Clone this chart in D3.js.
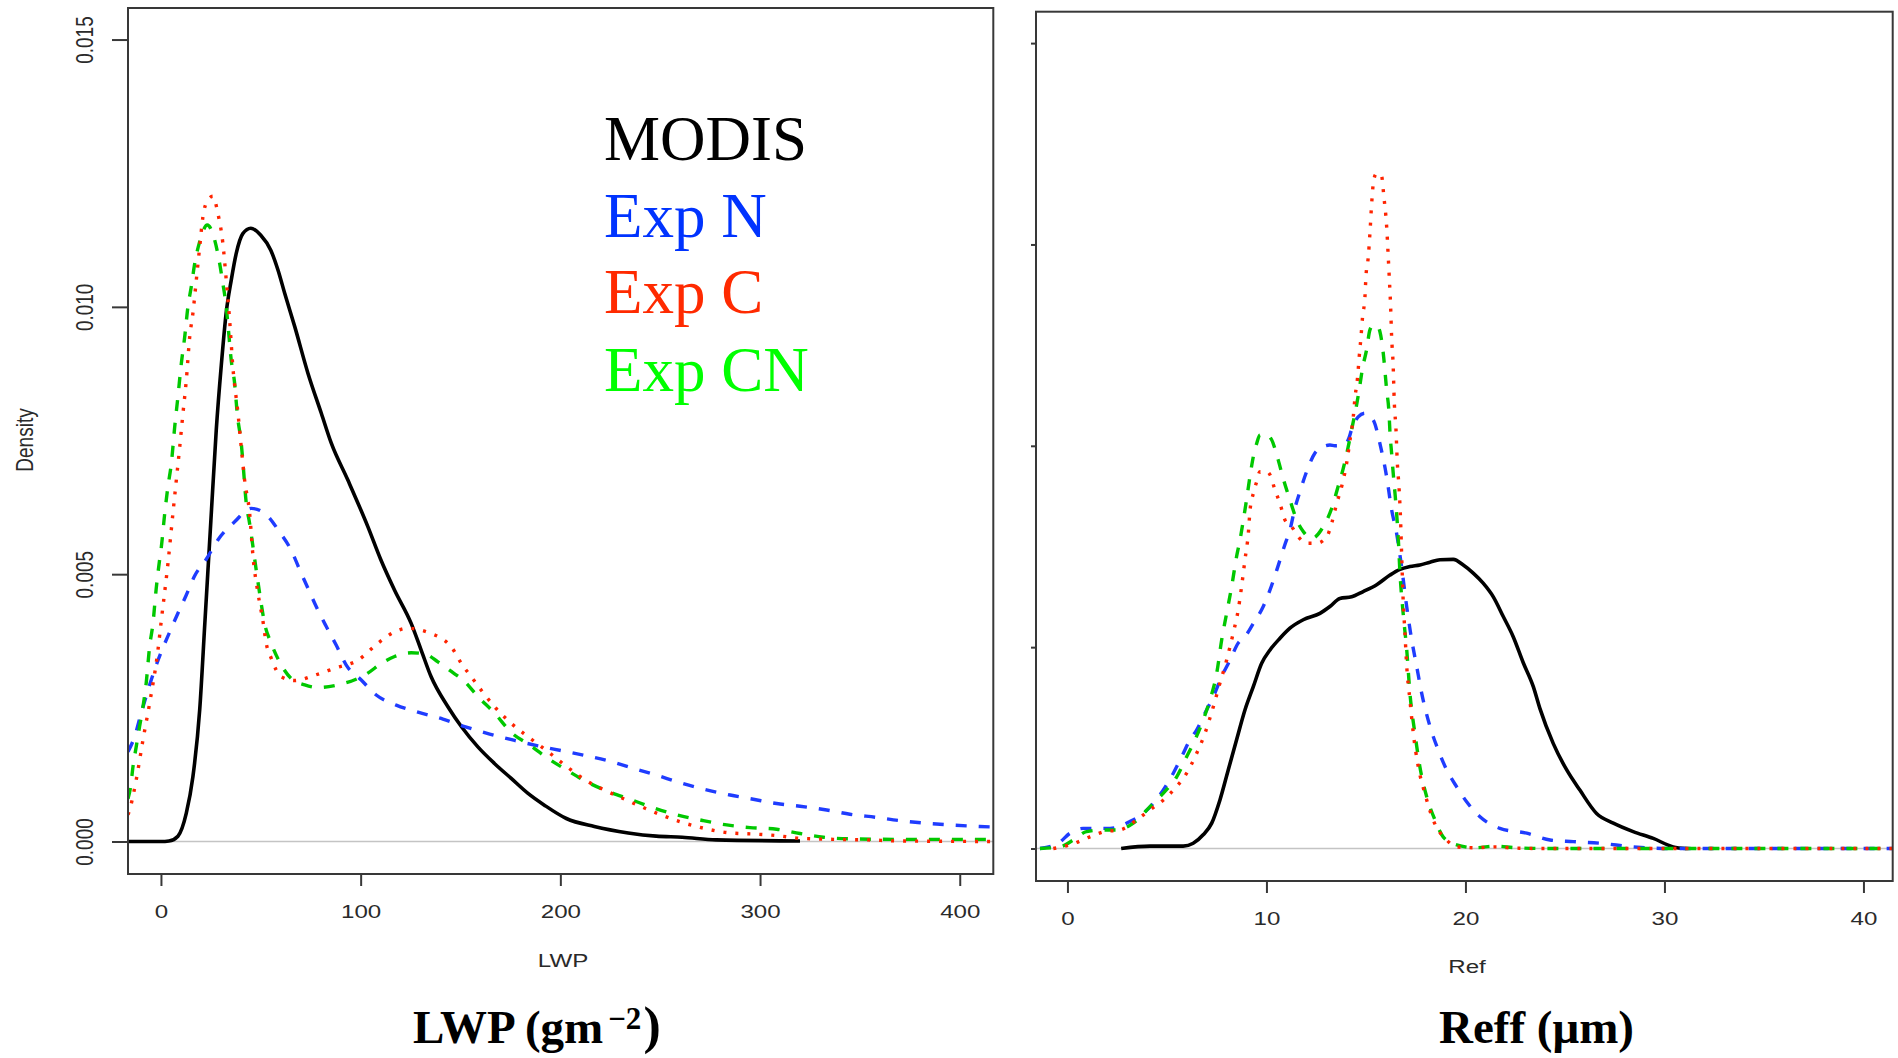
<!DOCTYPE html>
<html><head><meta charset="utf-8">
<script src="https://cdn.jsdelivr.net/npm/d3@7"></script>
<style>body{margin:0;background:#fff;overflow:hidden}</style>
</head><body>
<svg id="c" width="1898" height="1058"></svg>
<script>
// ---------- data ----------
const seriesNames = ["MODIS", "Exp N", "Exp C", "Exp CN"];
const lwpTicksX = [0, 100, 200, 300, 400];
const lwpTicksY = [0, 0.005, 0.010, 0.015];
const lwpTickLabelsY = ["0.000", "0.005", "0.010", "0.015"];
const refTicksX = [0, 10, 20, 30, 40];
const refTicksY = [0, 0.05, 0.10, 0.15, 0.20];

// LWP densities [LWP, density]
const lwpModis = [[-16.5,0],[0,0],[4,0.00001],[8.5,0.0001],[12.7,0.00053],[16,0.00121],[19.4,0.00246],[22,0.0041],[25,0.006],[27.7,0.0077],[30.2,0.0089],[32.7,0.0099],[35.2,0.0105],[37.7,0.011],[41,0.01137],[45,0.01147],[50,0.01134],[55,0.01106],[58.6,0.01069],[62,0.01025],[67,0.00963],[73.6,0.00876],[80.3,0.00801],[85.3,0.00745],[93.6,0.00676],[103.6,0.00589],[110,0.00528],[117,0.0047],[125.3,0.00408],[130.3,0.00358],[135.3,0.00308],[143.7,0.00252],[150.4,0.00215],[158.7,0.00177],[167,0.00146],[175.4,0.00118],[183.8,0.0009],[192,0.00068],[203,0.00043],[217,0.00028],[234,0.00016],[248,0.0001],[261,0.00008],[278,0.00003],[320,0.00001]];
const lwpExpN = [[-16.5,0.00168],[-13.2,0.00196],[-9.9,0.0024],[-6.5,0.00283],[-3.2,0.00321],[0.2,0.00355],[4.4,0.00392],[8.5,0.00427],[12.7,0.00461],[16.9,0.00497],[22.7,0.00528],[28.5,0.00564],[36.9,0.00598],[45.2,0.00623],[51.9,0.00614],[59.4,0.00579],[65.2,0.00545],[70.2,0.00502],[73.6,0.00474],[77.8,0.00439],[82.8,0.00402],[87.8,0.00367],[92.8,0.0033],[100.3,0.00302],[107.8,0.00274],[117.8,0.00255],[128.7,0.00242],[141.2,0.00229],[152.1,0.00215],[164.6,0.00201],[177.1,0.00189],[188.8,0.00179],[200.5,0.0017],[213.5,0.0016],[224.8,0.0015],[236.5,0.00137],[248.2,0.00124],[259.9,0.0011],[271.6,0.00098],[285,0.00087],[296.6,0.00079],[308.3,0.00071],[320,0.00066],[333.4,0.00059],[345,0.00051],[358.4,0.00045],[370,0.00039],[383.4,0.00034],[395,0.00031],[410,0.00028],[416.8,0.00027]];
const lwpExpC = [[-16.5,0.0005],[-15.7,0.00059],[-12.4,0.00115],[-9,0.0019],[-5.7,0.00258],[-1.5,0.00358],[0.2,0.00414],[3.5,0.0052],[6,0.00614],[7.7,0.00676],[9.4,0.00738],[11,0.008],[12.7,0.00863],[14.4,0.00944],[16,0.00988],[17.7,0.0105],[19.4,0.01112],[21,0.01168],[23.5,0.012],[26,0.01207],[28.5,0.01175],[31,0.01119],[32.7,0.0105],[34.4,0.00975],[36,0.00888],[38.6,0.008],[40.2,0.00738],[41.9,0.00676],[44.4,0.00614],[46.1,0.00533],[48.6,0.00464],[51,0.00414],[52.7,0.00371],[55.2,0.00343],[60.2,0.00308],[66.9,0.00301],[77,0.00311],[87,0.00324],[98.6,0.00339],[108.7,0.00371],[117,0.00392],[123.7,0.00399],[129.5,0.00396],[135.3,0.00389],[140.4,0.0038],[145.4,0.00364],[150.4,0.00333],[155.4,0.00308],[160.4,0.00283],[167.1,0.00252],[175.4,0.00221],[183.8,0.00196],[193.8,0.00168],[202.2,0.00143],[213.8,0.00112],[222.2,0.00096],[232.2,0.00079],[240,0.00066],[248.2,0.00053],[259.9,0.00037],[271.6,0.00025],[285,0.00016],[296.6,0.00014],[308.3,0.00011],[320,0.00006],[336.6,0.00004],[353.4,0.00003],[370,0.00001],[416.8,0]];
const lwpExpCN = [[-16.5,0.0008],[-15.2,0.00102],[-14,0.0014],[-12.4,0.00177],[-10.7,0.00215],[-9,0.00252],[-7.4,0.00296],[-5.7,0.00364],[-4,0.00408],[-2.4,0.00472],[-0.7,0.00526],[0.2,0.00551],[1.9,0.00614],[3.5,0.00664],[5.2,0.00707],[6.9,0.00776],[8.5,0.00832],[10.2,0.00894],[11.9,0.00944],[13.5,0.01],[15.2,0.01038],[16.9,0.01081],[19.4,0.01122],[23.2,0.01153],[26.9,0.01125],[29.4,0.01081],[31,0.01044],[32.7,0.01],[33.5,0.00969],[35.2,0.009],[36.9,0.00857],[38.2,0.008],[40.2,0.00745],[41.1,0.00707],[42.7,0.00633],[44.4,0.00595],[46.1,0.00551],[47.7,0.00508],[48.6,0.00485],[50.2,0.00445],[51.9,0.00408],[55.2,0.00371],[59.4,0.00336],[65.2,0.00305],[72,0.00293],[78.6,0.00288],[88.6,0.00293],[98.6,0.00305],[103.6,0.00315],[110.3,0.00333],[117,0.00346],[125.3,0.00353],[132,0.00351],[138.7,0.00336],[145.4,0.00318],[152.1,0.00299],[158.7,0.00271],[167.1,0.0024],[175.4,0.00204],[184.8,0.0018],[193.5,0.00156],[203,0.00134],[213.5,0.00111],[225,0.00092],[234.9,0.00079],[246.5,0.00063],[258.2,0.0005],[271.6,0.00039],[283.3,0.00031],[295,0.00026],[308.3,0.00023],[320,0.00015],[331.7,0.00008],[345,0.00005],[370,0.00004],[416.8,0.00004]];

// Reff densities [Reff, density]
const refModis = [[2.7,0],[4.15,0.0006],[5.82,0.0006],[6.32,0.0013],[6.82,0.0034],[7.25,0.0063],[7.66,0.012],[8.08,0.0195],[8.5,0.027],[8.92,0.0344],[9.34,0.0402],[9.76,0.046],[10.18,0.0493],[10.68,0.0522],[11.18,0.0547],[11.85,0.0568],[12.69,0.0584],[13.19,0.0601],[13.69,0.0621],[14.28,0.0625],[14.86,0.0638],[15.54,0.0655],[16.21,0.0679],[16.71,0.0693],[17.21,0.07],[17.71,0.0704],[18.22,0.0711],[18.72,0.0717],[19.39,0.0718],[19.89,0.0704],[20.39,0.0684],[20.89,0.0659],[21.4,0.0625],[21.9,0.0576],[22.4,0.0526],[22.9,0.0462],[23.41,0.0402],[23.74,0.0348],[24.41,0.0261],[25.09,0.0195],[25.75,0.0145],[26.59,0.0087],[27.43,0.0063],[28.43,0.0042],[29.44,0.0025],[30.44,0.0004],[31.1,0]];
const refExpN = [[-1.38,0],[-0.46,0.0013],[0.13,0.0038],[0.79,0.005],[2.14,0.005],[3.14,0.0067],[3.81,0.0087],[4.31,0.0112],[4.81,0.0145],[5.32,0.0187],[5.74,0.0228],[6.16,0.027],[6.49,0.0294],[6.91,0.0336],[7.33,0.0377],[7.75,0.0427],[8.17,0.0468],[8.58,0.051],[8.92,0.0526],[9.34,0.0559],[9.84,0.0601],[10.18,0.0642],[10.51,0.069],[10.93,0.0755],[11.18,0.0791],[11.43,0.0845],[11.68,0.0886],[12.02,0.0936],[12.44,0.0982],[12.77,0.0996],[13.19,0.1002],[13.44,0.1],[13.86,0.1002],[14.11,0.1015],[14.28,0.104],[14.61,0.1072],[14.95,0.1081],[15.37,0.1064],[15.7,0.1006],[16.04,0.0923],[16.29,0.0841],[16.54,0.0783],[16.79,0.07],[17.05,0.06],[17.3,0.0518],[17.55,0.0452],[17.8,0.0386],[18.22,0.0303],[18.63,0.0245],[19.06,0.0195],[19.56,0.0153],[20.06,0.0116],[20.73,0.0079],[21.73,0.005],[23.08,0.0038],[24.25,0.0021],[25.42,0.0017],[26.76,0.0013],[28.43,0.0004],[30.11,0],[41.47,0]];
const refExpC = [[-0.71,0],[0.13,0.0009],[1.13,0.0029],[1.88,0.0042],[2.64,0.0046],[3.48,0.0071],[4.15,0.0096],[4.81,0.012],[5.49,0.0154],[5.99,0.0187],[6.49,0.0236],[6.91,0.0286],[7.33,0.0352],[7.66,0.041],[8.0,0.0468],[8.33,0.0535],[8.58,0.0592],[8.75,0.065],[8.92,0.0717],[9.09,0.0783],[9.17,0.0837],[9.34,0.0882],[9.51,0.0911],[9.67,0.0936],[10.01,0.0936],[10.18,0.0928],[10.43,0.089],[10.68,0.0857],[10.93,0.0816],[11.27,0.0799],[11.6,0.0774],[12.02,0.0758],[12.52,0.0758],[13.03,0.0774],[13.28,0.0808],[13.53,0.0857],[13.78,0.0899],[14.03,0.0957],[14.2,0.1015],[14.36,0.107],[14.45,0.112],[14.58,0.117],[14.66,0.122],[14.75,0.127],[14.83,0.132],[14.95,0.137],[15.0,0.142],[15.12,0.147],[15.2,0.1528],[15.29,0.1603],[15.37,0.1652],[15.5,0.1675],[15.62,0.1677],[15.79,0.1669],[15.9,0.1619],[16.04,0.1545],[16.12,0.147],[16.17,0.142],[16.24,0.1346],[16.29,0.1271],[16.37,0.1197],[16.42,0.1114],[16.51,0.104],[16.57,0.0965],[16.67,0.089],[16.74,0.0816],[16.8,0.072],[16.87,0.0617],[16.96,0.0535],[17.05,0.0452],[17.21,0.0369],[17.38,0.0286],[17.63,0.0203],[17.96,0.0137],[18.38,0.0071],[19.06,0.0021],[19.56,0.0004],[20.5,0.0002],[21.5,0.0004],[22.5,0.0001],[24,0],[41.47,0]];
const refExpCN = [[-1.38,0],[-0.38,0.0004],[0.29,0.0021],[0.96,0.0042],[1.8,0.0046],[2.47,0.0046],[3.31,0.0063],[4.15,0.0104],[4.81,0.0137],[5.49,0.0178],[5.99,0.0228],[6.41,0.027],[6.82,0.0319],[7.16,0.0369],[7.5,0.0435],[7.75,0.0518],[8.0,0.0584],[8.25,0.065],[8.5,0.0725],[8.67,0.0766],[8.84,0.0816],[9.0,0.0866],[9.17,0.0923],[9.34,0.0973],[9.51,0.1006],[9.67,0.1027],[9.92,0.103],[10.26,0.1015],[10.59,0.0965],[10.84,0.0919],[11.18,0.0866],[11.52,0.0816],[11.85,0.0787],[12.27,0.077],[12.85,0.0799],[13.28,0.0845],[13.58,0.0895],[13.86,0.0944],[14.11,0.0998],[14.28,0.104],[14.5,0.1093],[14.66,0.1139],[14.83,0.1193],[15.03,0.1238],[15.2,0.1288],[15.37,0.13],[15.55,0.1298],[15.7,0.1284],[15.87,0.123],[16.04,0.1139],[16.16,0.1081],[16.21,0.1031],[16.29,0.0982],[16.37,0.0932],[16.46,0.0882],[16.54,0.0833],[16.62,0.0774],[16.71,0.0684],[16.87,0.0584],[17.05,0.0493],[17.21,0.0386],[17.46,0.0286],[17.71,0.0203],[18.05,0.0129],[18.47,0.0071],[18.88,0.0029],[19.56,0.0009],[20.5,0.0002],[21.5,0.0006],[22.5,0.0002],[24,0],[41.47,0]];

// ---------- drawing ----------
const svg = d3.select("#c");
const SANS = "'Liberation Sans', Arial, sans-serif";
const SERIF = "'Liberation Serif', 'Times New Roman', serif";
const STRETCH = 1.27;
const styles = {
  "MODIS":  {stroke:"#000000", width:3.6, dash:null},
  "Exp N":  {stroke:"#1f3cff", width:3.4, dash:"11,12"},
  "Exp C":  {stroke:"#ff2400", width:3.4, dash:"3,9"},
  "Exp CN": {stroke:"#00c800", width:3.4, dash:"11,12"}
};
const legendColors = {"MODIS":"#000000","Exp N":"#0033ff","Exp C":"#ff2a00","Exp CN":"#00ff00"};
const drawOrder = ["MODIS","Exp N","Exp CN","Exp C"];

function panel(cfg) {
  const {x, y, box, series, ticksX, ticksY, tickLabelsY, yTickLen, xLabel, xLabelPos, clipId} = cfg;
  const g = svg.append("g");
  g.append("clipPath").attr("id", clipId).append("rect")
    .attr("x", box[0]).attr("y", box[1]).attr("width", box[2]-box[0]).attr("height", box[3]-box[1]);
  g.append("line").attr("x1", box[0]).attr("x2", box[2]).attr("y1", y(0)).attr("y2", y(0))
    .attr("stroke", "#c4c4c4").attr("stroke-width", 1.6);
  const line = d3.line().x(d => x(d[0])).y(d => y(d[1])).curve(d3.curveMonotoneX);
  const cg = g.append("g").attr("clip-path", `url(#${clipId})`);
  drawOrder.forEach(name => {
    const s = styles[name];
    cg.append("path").datum(series[name]).attr("d", line)
      .attr("fill", "none").attr("stroke", s.stroke).attr("stroke-width", s.width)
      .attr("stroke-dasharray", s.dash).attr("stroke-linejoin", "round");
  });
  g.append("rect").attr("x", box[0]).attr("y", box[1]).attr("width", box[2]-box[0]).attr("height", box[3]-box[1])
    .attr("fill", "none").attr("stroke", "#383838").attr("stroke-width", 2);
  const ax = g.append("g").attr("transform", `translate(0,${box[3]})`)
    .call(d3.axisBottom(x).tickValues(ticksX).tickSize(12).tickSizeOuter(0).tickFormat(d3.format("d")));
  ax.select(".domain").remove();
  ax.selectAll("line").attr("stroke", "#383838").attr("stroke-width", 2);
  ax.selectAll("text").attr("y", 44).attr("dy", null)
    .attr("transform", `scale(${STRETCH},1)`)
    .style("font-family", SANS).style("font-size", "19px").attr("fill", "#2a2a2a");
  const ay = g.append("g").attr("transform", `translate(${box[0]},0)`)
    .call(d3.axisLeft(y).tickValues(ticksY).tickSize(yTickLen).tickSizeOuter(0)
      .tickFormat((d, i) => tickLabelsY ? tickLabelsY[i] : ""));
  ay.select(".domain").remove();
  ay.selectAll("line").attr("stroke", "#383838").attr("stroke-width", 2);
  ay.selectAll("text").attr("x", null).attr("dy", null).attr("text-anchor", "middle")
    .attr("transform", `translate(-35,0) scale(${STRETCH},1) rotate(-90)`)
    .style("font-family", SANS).style("font-size", "19px").attr("fill", "#2a2a2a");
  g.append("text").attr("transform", `translate(${xLabelPos[0]},${xLabelPos[1]}) scale(${STRETCH},1)`)
    .attr("text-anchor", "middle").style("font-family", SANS).style("font-size", "19px")
    .attr("fill", "#2a2a2a").text(xLabel);
}

const xL = d3.scaleLinear().domain([-16.5, 416.8]).range([128, 993.3]);
const yL = d3.scaleLinear().domain([-0.000608, 0.01559]).range([874, 8]);
panel({x: xL, y: yL, box: [128, 8, 993.3, 874], clipId: "cl",
  series: {"MODIS": lwpModis, "Exp N": lwpExpN, "Exp C": lwpExpC, "Exp CN": lwpExpCN},
  ticksX: lwpTicksX, ticksY: lwpTicksY, tickLabelsY: lwpTickLabelsY, yTickLen: 16,
  xLabel: "LWP", xLabelPos: [563, 967]});

const xR = d3.scaleLinear().domain([-1.58, 41.47]).range([1036, 1892.7]);
const yR = d3.scaleLinear().domain([-0.00807, 0.2078]).range([881, 11.7]);
panel({x: xR, y: yR, box: [1036, 11.7, 1892.7, 881], clipId: "cr",
  series: {"MODIS": refModis, "Exp N": refExpN, "Exp C": refExpC, "Exp CN": refExpCN},
  ticksX: refTicksX, ticksY: refTicksY, tickLabelsY: null, yTickLen: 5,
  xLabel: "Ref", xLabelPos: [1467, 973]});

svg.append("text").attr("transform", `translate(33,440) scale(${STRETCH},1) rotate(-90)`)
  .attr("text-anchor", "middle").style("font-family", SANS).style("font-size", "19px")
  .attr("fill", "#2a2a2a").text("Density");

const legendY = [160, 237, 313, 391];
seriesNames.forEach((n, i) => {
  svg.append("text").attr("x", 604).attr("y", legendY[i])
    .style("font-family", SERIF).style("font-size", "63px")
    .attr("fill", legendColors[n]).text(n);
});

const t1 = svg.append("text").attr("x", 413).attr("y", 1043)
  .style("font-family", SERIF).style("font-size", "47px").style("font-weight", "bold").attr("fill", "#000");
t1.append("tspan").text("LWP (gm");
t1.append("tspan").attr("dx", 5).attr("dy", -14).style("font-size", "31px").text("\u22122");
t1.append("tspan").attr("dx", 2).attr("dy", 14).style("font-size", "52px").text(")");

svg.append("text").attr("x", 1439).attr("y", 1043)
  .style("font-family", SERIF).style("font-size", "47px").style("font-weight", "bold").attr("fill", "#000")
  .text("Reff (\u03bcm)");
</script>
</body></html>
